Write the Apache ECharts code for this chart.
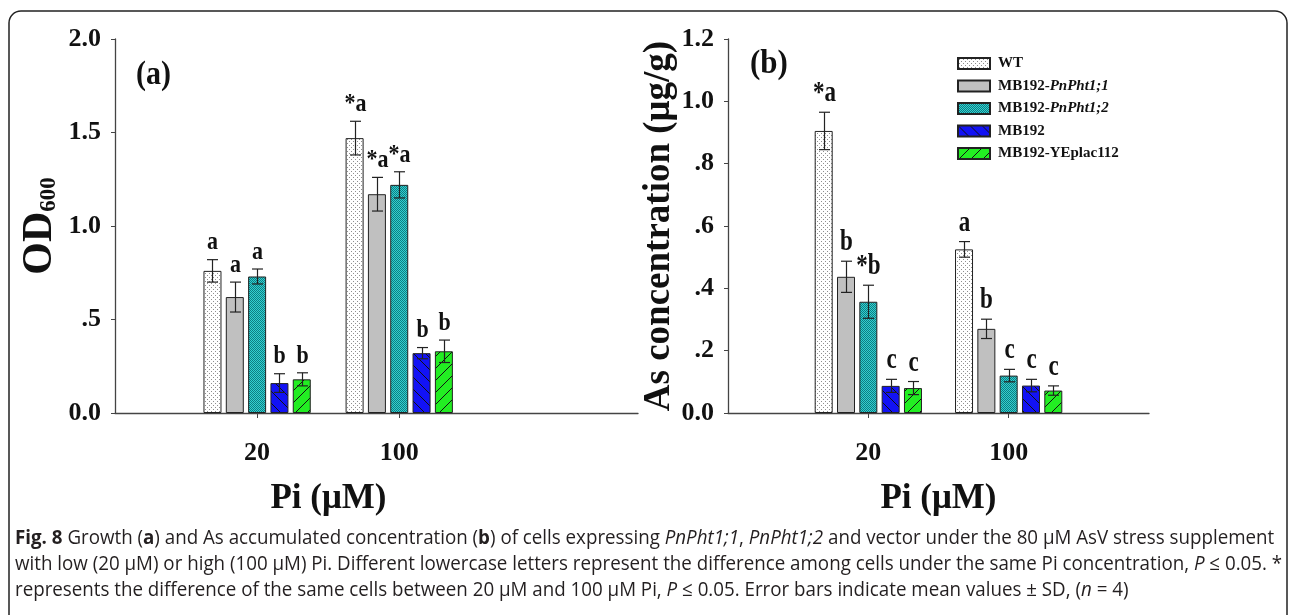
<!DOCTYPE html>
<html>
<head>
<meta charset="utf-8">
<script src="https://cdn.jsdelivr.net/npm/echarts@6.0.0/dist/echarts.min.js"></script>
<style>
  html, body { margin: 0; padding: 0; background: #fff; }
  #chart { width: 1290px; height: 615px; }
</style>
</head>
<body>
<div id="chart"></div>
<script>
// Pi levels (x positions on the value axis) and their labels
const piLevels = [1, 2];
const piLabels = ['20', '100'];
const strains = ['WT', 'MB192-PnPht1;1', 'MB192-PnPht1;2', 'MB192', 'MB192-YEplac112'];

// (a) OD600, one row per strain: [20 uM, 100 uM]
const odMean = [[0.76, 1.47], [0.62, 1.17], [0.73, 1.22], [0.16, 0.32], [0.18, 0.33]];
const odSd = [[0.06, 0.09], [0.08, 0.09], [0.04, 0.07], [0.05, 0.03], [0.035, 0.06]];
const odLetters = [['a', '*a'], ['a', '*a'], ['a', '*a'], ['b', 'b'], ['b', 'b']];

// (b) As concentration (ug/g)
const asMean = [[0.905, 0.525], [0.437, 0.27], [0.357, 0.12], [0.087, 0.088], [0.08, 0.072]];
const asSd = [[0.06, 0.025], [0.05, 0.031], [0.053, 0.02], [0.021, 0.02], [0.021, 0.015]];
const asLetters = [['*a', 'a'], ['b', 'b'], ['*b', 'c'], ['c', 'c'], ['c', 'c']];

const odTicks = ['0.0', '.5', '1.0', '1.5', '2.0'];
const asTicks = ['0.0', '.2', '.4', '.6', '.8', '1.0', '1.2'];

const captionLines = [
  '{b|Fig. 8} Growth ({b|a}) and As accumulated concentration ({b|b}) of cells expressing {i|PnPht1;1}, {i|PnPht1;2} and vector under the 80 μM AsV stress supplement',
  'with low (20 μM) or high (100 μM) Pi. Different lowercase letters represent the difference among cells under the same Pi concentration, {i|P} ≤ 0.05. *',
  'represents the difference of the same cells between 20 μM and 100 μM Pi, {i|P} ≤ 0.05. Error bars indicate mean values ± SD, ({i|n} = 4)'
];

const SERIF = '"Liberation Serif", "Times New Roman", serif';
const BAR_W = 18;
const GAP = 0.24;

// little canvas tiles for the SigmaPlot-like fills
function tile(size, draw) {
  const c = document.createElement('canvas');
  c.width = size; c.height = size;
  draw(c.getContext('2d'), size);
  return {image: c, repeat: 'repeat'};
}
const fills = [
  tile(4, (g, s) => {
    g.fillStyle = '#ffffff'; g.fillRect(0, 0, s, s);
    g.fillStyle = '#8f8f8f'; g.fillRect(1, 1, 1, 1); g.fillRect(3, 3, 1, 1);
  }),
  '#c0c0c0',
  tile(2, (g, s) => {
    g.fillStyle = '#33d0d0'; g.fillRect(0, 0, s, s);
    g.fillStyle = '#0d7d82'; g.fillRect(0, 0, 1, 1); g.fillRect(1, 1, 1, 1);
  }),
  tile(12, (g, s) => {
    g.fillStyle = '#1212f5'; g.fillRect(0, 0, s, s);
    g.strokeStyle = '#111'; g.lineWidth = 1;
    g.beginPath(); g.moveTo(-1, -1); g.lineTo(s + 1, s + 1); g.stroke();
  }),
  tile(12, (g, s) => {
    g.fillStyle = '#22ee22'; g.fillRect(0, 0, s, s);
    g.strokeStyle = '#111'; g.lineWidth = 1;
    g.beginPath(); g.moveTo(-1, s + 1); g.lineTo(s + 1, -1); g.stroke();
  })
];

const chart = echarts.init(document.getElementById('chart'));

function barSeries(panel, means) {
  return strains.map((name, i) => ({
    name: name,
    type: 'bar',
    xAxisIndex: panel,
    yAxisIndex: panel,
    barWidth: BAR_W,
    barGap: (GAP * 100) + '%',
    itemStyle: {color: fills[i], borderColor: '#222', borderWidth: 1},
    data: piLevels.map((x, j) => [x, means[i][j]])
  }));
}

// error bars + significance letters, placed on the bar centres
function errorSeries(panel, means, sds, letters, fontSize, stretch) {
  const rows = [];
  strains.forEach((s, i) => piLevels.forEach((x, j) => {
    rows.push({value: [x, means[i][j], sds[i][j], i], letter: letters[i][j]});
  }));
  return {
    type: 'custom',
    xAxisIndex: panel,
    yAxisIndex: panel,
    z: 5,
    silent: true,
    clip: false,
    encode: {x: 0, y: 1},
    data: rows,
    renderItem: function (params, api) {
      const k = api.value(3);
      const off = (k - 2) * BAR_W * (1 + GAP);
      const hi = api.coord([api.value(0), api.value(1) + api.value(2)]);
      const lo = api.coord([api.value(0), api.value(1) - api.value(2)]);
      const x = Math.round(hi[0] + off) + 0.5;
      const cap = 5.5;
      const line = {stroke: '#222', lineWidth: 1.2};
      return {
        type: 'group',
        children: [
          {type: 'line', shape: {x1: x, y1: hi[1], x2: x, y2: lo[1]}, style: line},
          {type: 'line', shape: {x1: x - cap, y1: hi[1], x2: x + cap, y2: hi[1]}, style: line},
          {type: 'line', shape: {x1: x - cap, y1: lo[1], x2: x + cap, y2: lo[1]}, style: line},
          {type: 'text', x: x, y: hi[1] - 4, scaleY: stretch, style: {
            text: rows[params.dataIndex].letter, fill: '#111',
            fontFamily: SERIF, fontWeight: 'bold', fontSize: fontSize,
            align: 'center', verticalAlign: 'bottom'
          }}
        ]
      };
    }
  };
}

function xAxis(panel, max, namePad) {
  return {
    type: 'value',
    gridIndex: panel,
    min: 0,
    max: max,
    interval: 1,
    axisLine: {lineStyle: {color: '#444', width: 1.3}},
    axisTick: {customValues: piLevels, length: 5, lineStyle: {color: '#444'}},
    splitLine: {show: false},
    axisLabel: {
      customValues: piLevels,
      formatter: v => piLabels[piLevels.indexOf(v)],
      margin: 27, color: '#111', fontFamily: SERIF, fontWeight: 'bold', fontSize: 26
    },
    name: 'Pi (μM)',
    nameLocation: 'middle',
    nameGap: 68,
    nameTextStyle: {color: '#111', fontFamily: SERIF, fontWeight: 'bold', fontSize: 35, padding: namePad}
  };
}

function yAxis(panel, max, step, ticks, name, nameGap, nameStyle) {
  return {
    type: 'value',
    gridIndex: panel,
    min: 0,
    max: max,
    interval: step,
    axisLine: {show: true, lineStyle: {color: '#444', width: 1.3}},
    axisTick: {show: true, length: 4, lineStyle: {color: '#444'}},
    splitLine: {show: false},
    axisLabel: {
      formatter: v => ticks[Math.round(v / step)],
      margin: 14, color: '#111', fontFamily: SERIF, fontWeight: 'bold', fontSize: 26
    },
    name: name,
    nameLocation: 'middle',
    nameRotate: 90,
    nameGap: nameGap,
    nameTextStyle: nameStyle
  };
}

// caption: squeeze the sans text so the first line spans the box like the original
const CAP_FONT = '"Open Sans", "Noto Sans", sans-serif';
const CAP_SIZE = 20;
const meas = document.createElement('canvas').getContext('2d');
meas.font = CAP_SIZE + 'px ' + CAP_FONT;
const capFit = 1264 / meas.measureText(captionLines[0].replace(/\{\w\|([^}]*)\}/g, '$1')).width;
const capRich = {
  b: {fontFamily: CAP_FONT, fontSize: CAP_SIZE, fontWeight: 'bold', fill: '#231f20'},
  i: {fontFamily: CAP_FONT, fontSize: CAP_SIZE, fontStyle: 'italic', fill: '#231f20'}
};

const option = {
  animation: false,
  backgroundColor: '#fff',
  grid: [
    {left: 115, top: 39, width: 523, height: 374},
    {left: 728, top: 39, width: 421, height: 374}
  ],
  xAxis: [xAxis(0, 3.68, [0, 96, 0, 0]), xAxis(1, 3, [0, 0, 0, 0])],
  yAxis: [
    yAxis(0, 2, 0.5, odTicks, '{a|OD}{s|600}', 54, {
      rich: {
        a: {fontFamily: SERIF, fontWeight: 'bold', fontSize: 42, color: '#111', lineHeight: 44, verticalAlign: 'bottom'},
        s: {fontFamily: SERIF, fontWeight: 'bold', fontSize: 23, color: '#111', lineHeight: 20, verticalAlign: 'bottom'}
      }
    }),
    yAxis(1, 1.2, 0.2, asTicks, 'As concentration (μg/g)', 35, {
      color: '#111', fontFamily: SERIF, fontWeight: 'bold', fontSize: 37
    })
  ],
  legend: {
    data: strains,
    orient: 'vertical',
    left: 957,
    top: 55,
    padding: 0,
    icon: 'rect',
    itemWidth: 32,
    itemHeight: 11,
    itemGap: 5.5,
    selectedMode: false,
    formatter: name => name.replace(/(PnPht1;\d)/, '{i|$1}'),
    textStyle: {
      color: '#111', fontFamily: SERIF, fontWeight: 'bold', fontSize: 15, lineHeight: 17,
      padding: [0, 0, 0, 3],
      rich: {i: {fontFamily: SERIF, fontWeight: 'bold', fontStyle: 'italic', fontSize: 15, color: '#111'}}
    }
  },
  graphic: [
    {type: 'rect', shape: {x: 9, y: 11, width: 1278, height: 660, r: 12},
      style: {fill: 'none', stroke: '#222', lineWidth: 1.5}, silent: true},
    {type: 'text', x: 136, y: 75, scaleY: 1.1, style: {text: '(a)', fontFamily: SERIF, fontWeight: 'bold', fontSize: 30, fill: '#111', verticalAlign: 'middle'}},
    {type: 'text', x: 750, y: 64, scaleY: 1.1, style: {text: '(b)', fontFamily: SERIF, fontWeight: 'bold', fontSize: 31, fill: '#111', verticalAlign: 'middle'}}
  ].concat(captionLines.map((line, n) => ({
    type: 'text', x: 15, y: 538 + n * 26, scaleX: capFit,
    style: {text: line, fontFamily: CAP_FONT, fontSize: CAP_SIZE, fill: '#231f20', verticalAlign: 'middle', rich: capRich}
  }))),
  series: [].concat(
    barSeries(0, odMean),
    [errorSeries(0, odMean, odSd, odLetters, 22, 1.18)],
    barSeries(1, asMean),
    [errorSeries(1, asMean, asSd, asLetters, 23, 1.25)]
  )
};

chart.setOption(option);
</script>
</body>
</html>
